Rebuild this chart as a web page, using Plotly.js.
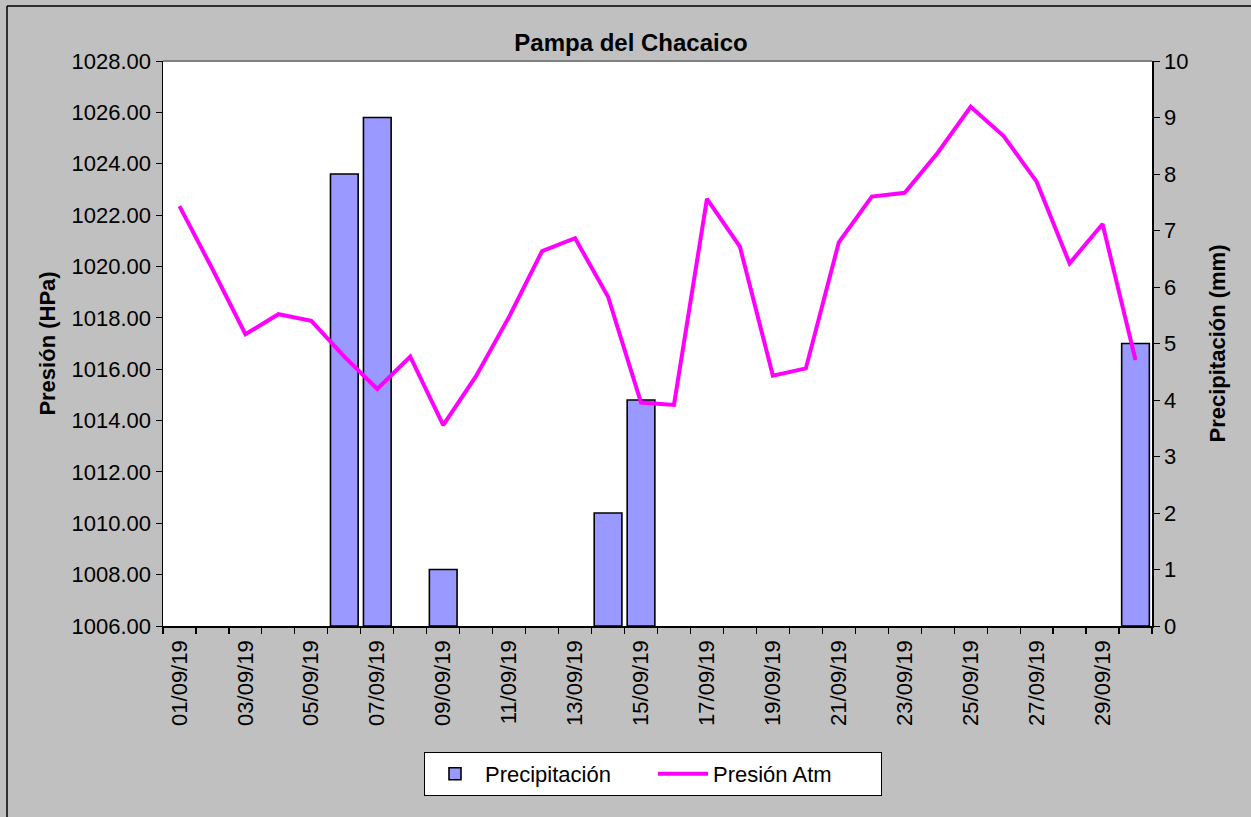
<!DOCTYPE html>
<html>
<head>
<meta charset="utf-8">
<script src="https://cdn.plot.ly/plotly-3.0.1.min.js"></script>
<style>
html,body{margin:0;padding:0;background:#c0c0c0;}
#chart{width:1251px;height:817px;}
</style>
</head>
<body>
<div id="chart"></div>
<script>
const fechas = ["01/09/19","02/09/19","03/09/19","04/09/19","05/09/19","06/09/19","07/09/19","08/09/19","09/09/19","10/09/19",
"11/09/19","12/09/19","13/09/19","14/09/19","15/09/19","16/09/19","17/09/19","18/09/19","19/09/19","20/09/19",
"21/09/19","22/09/19","23/09/19","24/09/19","25/09/19","26/09/19","27/09/19","28/09/19","29/09/19","30/09/19"];
const etiquetas = ["01/09/19","","03/09/19","","05/09/19","","07/09/19","","09/09/19","",
"11/09/19","","13/09/19","","15/09/19","","17/09/19","","19/09/19","",
"21/09/19","","23/09/19","","25/09/19","","27/09/19","","29/09/19",""];
const precipitacion = [0,0,0,0,0,8,9,0,1,0,0,0,0,2,4,0,0,0,0,0,0,0,0,0,0,0,0,0,0,5];
const presion = [1022.35,1019.90,1017.36,1018.14,1017.88,1016.49,1015.23,1016.49,1013.82,1015.74,
1018.04,1020.60,1021.10,1018.82,1014.70,1014.61,1022.63,1020.77,1015.75,1016.03,
1020.94,1022.72,1022.87,1024.43,1026.22,1025.08,1023.30,1020.12,1021.65,1016.36];

const W = 1251, H = 817;
const M = {l:163, r:99, t:61, b:191};
const pw = W - M.l - M.r, ph = H - M.t - M.b;
const px = x => (x - M.l) / pw;
const py = y => (H - M.b - y) / ph;
const FONT = '"Liberation Sans", Arial, sans-serif';

const traces = [
  {
    type: 'bar', name: 'Precipitación', x: fechas,
    y: precipitacion.map(v => v === 0 ? null : v), yaxis: 'y',
    marker: {color: '#9999ff', line: {color: '#000000', width: 1.6}}
  },
  {
    type: 'scatter', mode: 'lines', name: 'Presión Atm', x: fechas, y: presion, yaxis: 'y2',
    line: {color: '#ff00ff', width: 4}
  }
];

const layout = {
  width: W, height: H,
  margin: M,
  paper_bgcolor: '#c0c0c0',
  plot_bgcolor: '#ffffff',
  font: {family: FONT, size: 22, color: '#000000'},
  bargap: 0.16,
  showlegend: true,
  title: {
    text: '<b>Pampa del Chacaico</b>',
    font: {family: FONT, size: 24, color: '#000000'},
    x: 631 / W, xanchor: 'center', xref: 'container',
    y: 1 - 43 / H, yanchor: 'middle', yref: 'container'
  },
  xaxis: {
    type: 'category',
    tickvals: fechas, ticktext: etiquetas,
    tickangle: -90,
    tickson: 'boundaries',
    ticks: 'outside', ticklen: 6, tickcolor: '#000000', tickwidth: 1.2,
    showline: true, linecolor: '#000000', linewidth: 1.5,
    showgrid: false, zeroline: false,
    tickfont: {family: FONT, size: 22, color: '#000000'},
    ticklabelstandoff: 4,
    range: [-0.5, 29.5]
  },
  yaxis: {
    side: 'right',
    range: [0, 10], dtick: 1, tick0: 0,
    ticks: 'outside', ticklen: 6, tickcolor: '#000000',
    showline: true, linecolor: '#000000', linewidth: 1.5,
    showgrid: false, zeroline: false,
    tickfont: {family: FONT, size: 22, color: '#000000'},
    title: {text: '<b>Precipitación (mm)</b>', font: {family: FONT, size: 22, color: '#000000'}, standoff: 22}
  },
  yaxis2: {
    overlaying: 'y', side: 'left',
    range: [1006, 1028], dtick: 2, tick0: 1006,
    tickformat: '.2f',
    ticks: 'outside', ticklen: 6, tickcolor: '#000000',
    showline: true, linecolor: '#000000', linewidth: 1.5,
    showgrid: false, zeroline: false,
    tickfont: {family: FONT, size: 22, color: '#000000'},
    title: {text: '<b>Presión (HPa)</b>', font: {family: FONT, size: 22, color: '#000000'}, standoff: 10}
  },
  legend: {
    orientation: 'h',
    x: px(424), xanchor: 'left',
    y: py(752), yanchor: 'top',
    bgcolor: '#ffffff', bordercolor: '#000000', borderwidth: 1,
    font: {family: FONT, size: 22, color: '#000000'},
    itemwidth: 50, entrywidth: 163, traceorder: 'normal'
  },
  shapes: [
    {type: 'line', xref: 'paper', yref: 'paper', x0: 0, x1: 1, y0: 1, y1: 1, line: {color: '#808080', width: 2}},
    {type: 'line', xref: 'paper', yref: 'paper', x0: px(7), x1: px(7), y0: py(6), y1: py(H), line: {color: '#000000', width: 1.5}},
    {type: 'line', xref: 'paper', yref: 'paper', x0: px(7), x1: px(W), y0: py(6), y1: py(6), line: {color: '#000000', width: 1.5}}
  ]
};

Plotly.newPlot('chart', traces, layout, {displayModeBar: false, staticPlot: true});
</script>
</body>
</html>
